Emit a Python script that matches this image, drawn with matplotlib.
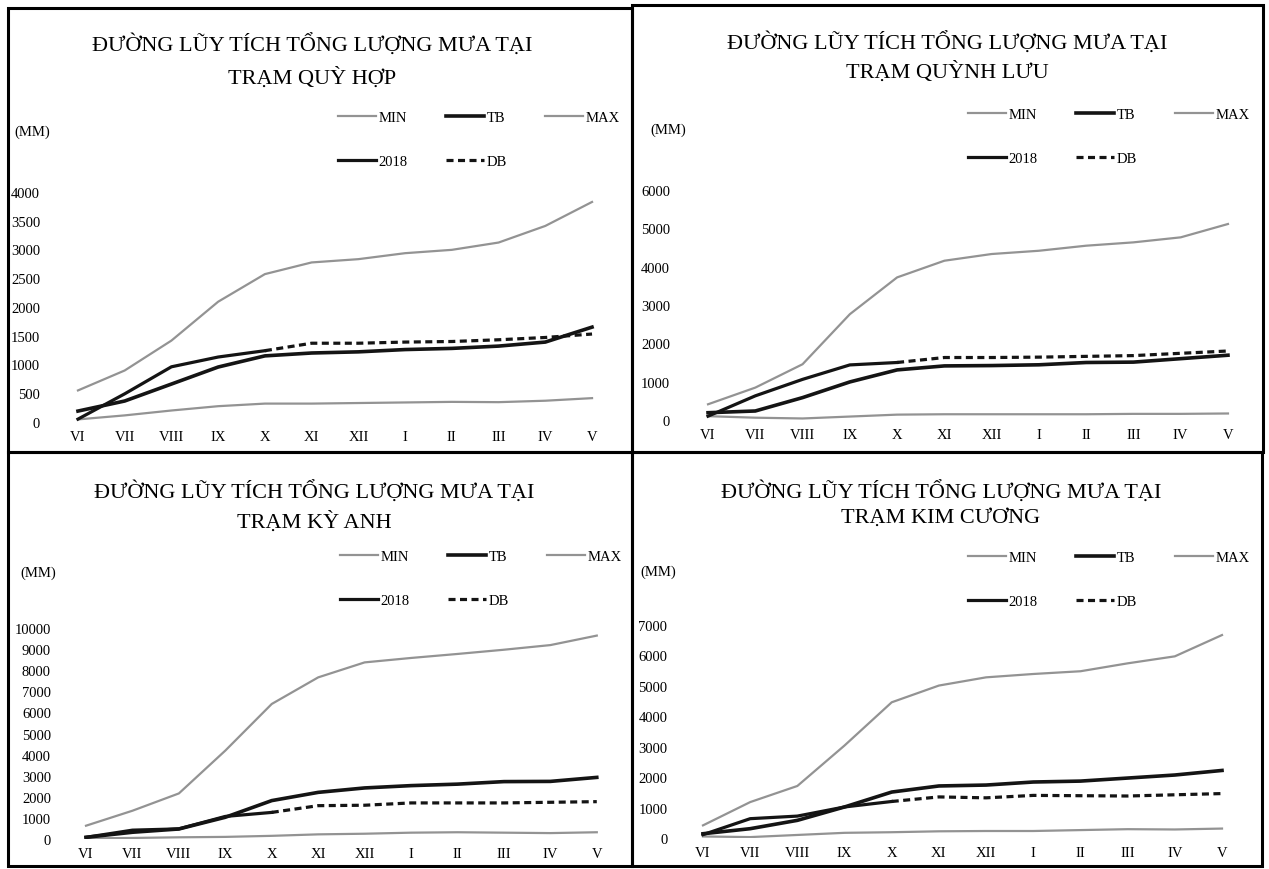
import numpy as np
import matplotlib
matplotlib.use('Agg')
import matplotlib.pyplot as plt
from matplotlib.patches import Rectangle

plt.rcParams['font.family'] = ['Liberation Serif', 'DejaVu Serif']

months = ['VI', 'VII', 'VIII', 'IX', 'X', 'XI', 'XII', 'I', 'II', 'III', 'IV', 'V']
nan = np.nan

# Trạm Quỳ Hợp
qh_min = [45, 115, 200, 275, 320, 320, 330, 340, 350, 345, 370, 415]
qh_tb = [190, 365, 660, 956, 1150, 1200, 1220, 1260, 1280, 1320, 1390, 1650]
qh_max = [549, 896, 1416, 2092, 2572, 2775, 2832, 2936, 2994, 3121, 3410, 3827]
qh_2018 = [50, 490, 960, 1130, 1240, nan, nan, nan, nan, nan, nan, nan]
qh_db = [nan, nan, nan, nan, 1240, 1370, 1370, 1390, 1400, 1430, 1470, 1530]

# Trạm Quỳnh Lưu
ql_min = [100, 60, 40, 90, 140, 150, 150, 150, 150, 160, 160, 170]
ql_tb = [190, 235, 584, 993, 1307, 1411, 1420, 1440, 1500, 1510, 1600, 1690]
ql_max = [410, 845, 1455, 2760, 3720, 4155, 4330, 4415, 4547, 4634, 4765, 5113]
ql_2018 = [100, 630, 1060, 1437, 1500, nan, nan, nan, nan, nan, nan, nan]
ql_db = [nan, nan, nan, nan, 1500, 1630, 1630, 1640, 1660, 1680, 1740, 1800]

# Trạm Kỳ Anh
ka_min = [30, 50, 80, 100, 150, 220, 250, 300, 320, 300, 280, 320]
ka_tb = [80, 320, 475, 1030, 1820, 2210, 2420, 2530, 2600, 2720, 2730, 2920]
ka_max = [630, 1340, 2160, 4190, 6400, 7660, 8370, 8580, 8770, 8970, 9190, 9640]
ka_2018 = [80, 420, 480, 1070, 1260, nan, nan, nan, nan, nan, nan, nan]
ka_db = [nan, nan, nan, nan, 1260, 1580, 1600, 1710, 1710, 1710, 1740, 1770]

# Trạm Kim Cương
kc_min = [50, 30, 100, 170, 190, 220, 230, 230, 260, 290, 280, 310]
kc_tb = [140, 306, 580, 1020, 1510, 1710, 1740, 1840, 1870, 1970, 2070, 2220]
kc_max = [415, 1180, 1710, 3040, 4460, 5010, 5280, 5390, 5480, 5740, 5970, 6670]
kc_2018 = [110, 635, 720, 1020, 1200, nan, nan, nan, nan, nan, nan, nan]
kc_db = [nan, nan, nan, nan, 1200, 1350, 1320, 1400, 1390, 1380, 1420, 1460]

title_top = 'ĐƯỜNG LŨY TÍCH TỔNG LƯỢNG MƯA TẠI'

W, H = 1269, 870
fig = plt.figure(figsize=(W / 100, H / 100), dpi=100)
fig.patch.set_facecolor('white')

GRAY = '#939393'
BLACK = '#141414'


def panel(box, area, ypad, title2, title_xy, mm_xy, leg_xy, ymax, ystep,
          mins, tb, maxs, y2018, db):
    x0, y0, x1, y1 = box
    fig.add_artist(Rectangle((x0 / W, 1 - y1 / H), (x1 - x0) / W, (y1 - y0) / H,
                             transform=fig.transFigure, fill=False, lw=2.2, ec='black'))
    l, t, r, b = area
    ax = fig.add_axes([l / W, 1 - b / H, (r - l) / W, (b - t) / H])
    ax.patch.set_alpha(0)
    x = np.arange(len(months))
    h_min, = ax.plot(x, mins, color=GRAY, lw=1.6, label='MIN')
    h_tb, = ax.plot(x, tb, color=BLACK, lw=2.6, label='TB')
    h_max, = ax.plot(x, maxs, color=GRAY, lw=1.6, label='MAX')
    h_18, = ax.plot(x, y2018, color=BLACK, lw=2.3, label='2018')
    h_db, = ax.plot(x, db, color=BLACK, lw=2.3, ls=(0, (2.2, 1.4)), label='DB')
    ax.set_xlim(-0.5, len(months) - 0.5)
    ax.set_ylim(0, ymax)
    ax.set_xticks(x, months)
    ax.set_yticks(np.arange(0, ymax + 1, ystep))
    for s in ax.spines.values():
        s.set_visible(False)
    ax.tick_params(axis='both', length=0, labelsize=10.5)
    ax.tick_params(axis='y', pad=ypad)
    ax.tick_params(axis='x', pad=6)

    tx, ty1, ty2 = title_xy
    fig.text(tx / W, 1 - ty1 / H, title_top, ha='center', va='center', fontsize=16)
    fig.text(tx / W, 1 - ty2 / H, title2, ha='center', va='center', fontsize=16)
    fig.text(mm_xy[0] / W, 1 - mm_xy[1] / H, '(MM)', ha='left', va='center', fontsize=10.5)

    ax.legend(handles=[h_min, h_18, h_tb, h_db, h_max], ncol=3, loc='upper left',
              bbox_to_anchor=(leg_xy[0] / W, 1 - leg_xy[1] / H),
              bbox_transform=fig.transFigure, frameon=False, fontsize=10.5,
              handlelength=2.6, handletextpad=0.2, columnspacing=2.6,
              labelspacing=2.1, borderpad=0, borderaxespad=0)


panel((8, 9, 632, 453), (54.6, 193, 615.4, 423), 10.5, 'TRẠM QUỲ HỢP',
      (312, 46, 78), (14, 132), (338, 112), 4000, 500,
      qh_min, qh_tb, qh_max, qh_2018, qh_db)
panel((632, 6, 1263, 453), (684.4, 191, 1251.6, 421), 10.4, 'TRẠM QUỲNH LƯU',
      (947, 44, 72), (650, 130), (968, 109), 6000, 1000,
      ql_min, ql_tb, ql_max, ql_2018, ql_db)
panel((8, 453, 632, 867), (62.8, 629, 620, 840), 8.5, 'TRẠM KỲ ANH',
      (314, 493, 522), (20, 573), (340, 551), 10000, 1000,
      ka_min, ka_tb, ka_max, ka_2018, ka_db)
panel((632, 453, 1262, 867), (679.4, 626, 1245.6, 839), 8.6, 'TRẠM KIM CƯƠNG',
      (941, 493, 518), (640, 572), (968, 552), 7000, 1000,
      kc_min, kc_tb, kc_max, kc_2018, kc_db)

fig.savefig('out.png', dpi=100)
